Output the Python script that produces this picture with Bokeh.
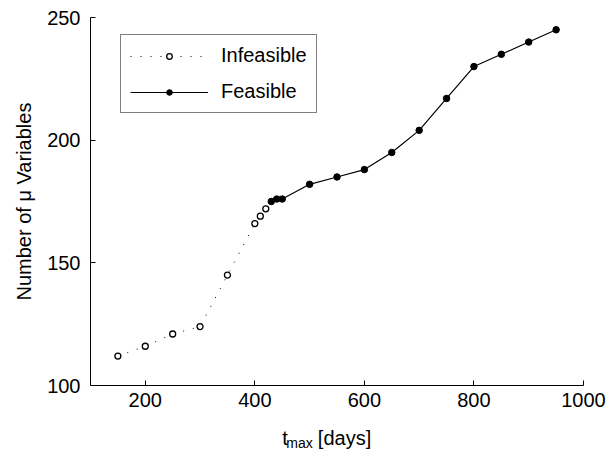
from bokeh.plotting import figure
from bokeh.models import Legend, LegendItem, FixedTicker, Label, Range1d, Title
from bokeh.embed import file_html
from bokeh.resources import INLINE

# data
inf_t = [150, 200, 250, 300, 350, 400, 410, 420]
inf_n = [112, 116, 121, 124, 145, 166, 169, 172]
fea_t = [430, 440, 450, 500, 550, 600, 650, 700, 750, 800, 850, 900, 950]
fea_n = [175, 176, 176, 182, 185, 188, 195, 204, 217, 230, 235, 240, 245]
x_ticks = [200, 400, 600, 800, 1000]
y_ticks = [100, 150, 200, 250]

FONT = "Liberation Sans"
W, H = 606, 451
LEFT, RIGHT_PX = 90, 583          # page columns of x=100 and x=1000
TOP, BOTTOM_PX = 17, 385          # page rows of y=250 and y=100
frame_h = H - TOP
frame_w = W - LEFT
y_lo = 250 - 150 * frame_h / (BOTTOM_PX - TOP)   # room below y=100 for the x label
x_hi = 100 + 900 * frame_w / (RIGHT_PX - LEFT)   # room right of 1000 for its tick label

p = figure(width=W, height=H, output_backend="svg", toolbar_location=None,
           x_range=Range1d(100, x_hi), y_range=Range1d(y_lo, 250),
           min_border_left=LEFT, min_border_right=0, min_border_top=TOP,
           min_border_bottom=0)
p.outline_line_color = None
p.xgrid.visible = False
p.ygrid.visible = False
p.background_fill_color = "white"
p.border_fill_color = "white"

for ax in (p.xaxis[0], p.yaxis[0]):
    ax.axis_line_color = "black"
    ax.axis_line_width = 1
    ax.major_tick_line_color = "black"
    ax.major_tick_in = 5
    ax.major_tick_out = 0
    ax.minor_tick_line_color = None
    ax.major_label_text_font = FONT
    ax.major_label_text_font_size = "20px"
    ax.major_label_text_color = "black"

p.xaxis[0].ticker = FixedTicker(ticks=x_ticks)
p.yaxis[0].ticker = FixedTicker(ticks=y_ticks)
p.xaxis[0].fixed_location = 100
p.xaxis[0].bounds = (100, 1000)
p.yaxis[0].bounds = (100, 250)
p.xaxis[0].major_label_standoff = 7
p.yaxis[0].major_label_standoff = 10

# y-axis label as a left title, placed to centre on the 100..250 span
ylab = Title(text="Number of \u03bc Variables", align="left",
             offset=151, standoff=19,
             text_font=FONT, text_font_size="20px", text_font_style="normal",
             text_color="black")
p.add_layout(ylab, "left")

# x-axis label "t_max [days]" with subscript
common = dict(text_font=FONT, text_color="black", text_align="left",
              text_baseline="alphabetic")
p.add_layout(Label(x=450, y=78.8, text="t", text_font_size="20px", **common))
p.add_layout(Label(x=457.5, y=76.4, text="max", text_font_size="14px", **common))
p.add_layout(Label(x=515, y=78.8, text="[days]", text_font_size="20px", **common))

l1 = p.line(inf_t, inf_n, line_color="black", line_width=1, line_dash="1 9")
s1 = p.scatter(inf_t, inf_n, marker="circle", size=6, fill_color="white",
               line_color="black", line_width=1.3)
l2 = p.line(fea_t, fea_n, line_color="black", line_width=1.2)
s2 = p.scatter(fea_t, fea_n, marker="circle", size=6.5, fill_color="black",
               line_color="black")

legend = Legend(items=[LegendItem(label="Infeasible", renderers=[l1, s1]),
                       LegendItem(label="Feasible", renderers=[l2, s2])],
                location=(30, frame_h - 18 - 78))
legend.glyph_width = 78
legend.glyph_height = 14
legend.label_height = 14
legend.spacing = 13
legend.padding = 9
legend.margin = 0
legend.label_standoff = 13
legend.label_text_font = FONT
legend.label_text_font_size = "20px"
legend.label_text_color = "black"
legend.border_line_color = "black"
legend.border_line_width = 1
legend.background_fill_color = "white"
legend.background_fill_alpha = 1
p.add_layout(legend, "center")

open("out.html", "w").write(file_html(p, INLINE))
